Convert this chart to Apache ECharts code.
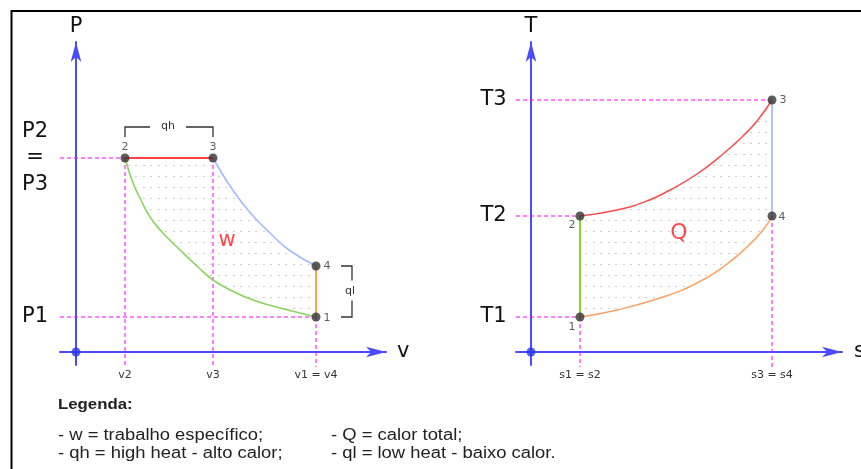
<!DOCTYPE html>
<html>
<head>
<meta charset="utf-8">
<script src="https://cdn.jsdelivr.net/npm/echarts@6/dist/echarts.min.js"></script>
<style>
  html, body { margin: 0; padding: 0; background: #fff; }
  #chart { width: 861px; height: 469px; }
</style>
</head>
<body>
<div id="chart"></div>
<script>
// State points 1..4 of the cycle
const stateNames = ['1', '2', '3', '4'];

// P-v diagram
const vState = [24.0, 4.9, 13.7, 24.0];
const pState = [3.5, 19.4, 19.4, 8.6];
const vTickValues = [4.9, 13.7, 24.0];
const vTickLabels = ['v2', 'v3', 'v1 = v4'];
const pTickValues = [3.5, 19.4];
const pTickLabels = ['P1', 'P2\n=\nP3'];
// compression 2 -> 1 and expansion 3 -> 4
const pvPath21 = [[4.9, 19.4], [5.7, 16.9], [6.5, 15.2], [7.4, 13.5], [8.7, 11.9], [10.4, 10.2],
                  [12.2, 8.5], [13.7, 7.2], [15.4, 6.2], [17.7, 5.2], [20.4, 4.4], [22.4, 3.9], [24.0, 3.5]];
const pvPath34 = [[13.7, 19.4], [14.4, 18.2], [15.2, 16.9], [16.4, 15.2], [17.8, 13.5], [19.4, 11.9],
                  [21.3, 10.2], [24.0, 8.6]];

// T-s diagram
const sState = [4.9, 4.9, 24.1, 24.1];
const tState = [3.5, 13.6, 25.2, 13.6];
const sTickValues = [4.9, 24.1];
const sTickLabels = ['s1 = s2', 's3 = s4'];
const tTickValues = [3.5, 13.6, 25.2];
const tTickLabels = ['T1', 'T2', 'T3'];
// heat addition 2 -> 3 and heat rejection 1 -> 4
const tsPath23 = [[4.9, 13.6], [8.6, 14.2], [11.6, 15.1], [13.9, 16.2], [16.6, 17.8], [19.2, 19.8],
                  [21.2, 21.6], [22.6, 23.1], [24.1, 25.2]];
const tsPath14 = [[4.9, 3.5], [8.6, 4.2], [13.2, 5.5], [16.6, 6.9], [19.2, 8.5], [21.6, 10.5],
                  [23.2, 12.2], [24.1, 13.6]];

// Area labels
const workLabel = { text: 'w', at: [15.1, 11.1] };
const heatLabel = { text: 'Q', at: [14.8, 11.9] };

// Axis ranges
const vRange = [-1.6, 31.0];
const pRange = [-1.3, 31.0];
const sRange = [-1.5, 31.1];
const tRange = [-1.3, 31.0];
const dropTo = -1.5; // where the vertical guides end below the abscissa

const FONT = '"DejaVu Sans", Verdana, sans-serif';
const AXIS_BLUE = '#4b4bff';
const MAGENTA = '#ff00ff';

// dotted hatch used to fill the cycle areas
const hatch = document.createElement('canvas');
hatch.width = 15; hatch.height = 11;
(function () {
  const c = hatch.getContext('2d');
  c.fillStyle = '#cfcfcf';
  c.fillRect(0, 0, 2, 1);
  c.fillRect(8, 0, 2, 1);
})();
const hatchFill = { type: 'pattern', image: hatch, repeat: 'repeat' };

function pick(values, labels, v) {
  let best = 0;
  values.forEach((x, i) => { if (Math.abs(x - v) < Math.abs(values[best] - v)) best = i; });
  return labels[best];
}

function xAxisDef(gridIndex, range, name, ticks, labels, gap) {
  return {
    type: 'value', gridIndex, min: range[0], max: range[1],
    name, nameLocation: 'end', nameGap: gap,
    nameTextStyle: { fontSize: 21, fontFamily: FONT, color: '#111', verticalAlign: 'middle' },
    axisLine: { onZero: true, symbol: ['none', 'arrow'], symbolSize: [8, 20],
                lineStyle: { color: AXIS_BLUE, width: 2 } },
    axisTick: { show: false }, splitLine: { show: false },
    axisLabel: { customValues: ticks, formatter: v => pick(ticks, labels, v),
                 margin: 5, fontSize: 11, fontFamily: FONT, color: '#333' }
  };
}

function yAxisDef(gridIndex, range, name, ticks, labels, margin) {
  return {
    type: 'value', gridIndex, min: range[0], max: range[1],
    name, nameLocation: 'end', nameGap: 5,
    nameTextStyle: { fontSize: 21, fontFamily: FONT, color: '#111' },
    axisLine: { onZero: true, symbol: ['none', 'arrow'], symbolSize: [8, 20],
                lineStyle: { color: AXIS_BLUE, width: 2 } },
    axisTick: { show: false }, splitLine: { show: false },
    axisLabel: { customValues: ticks, formatter: v => pick(ticks, labels, v),
                 margin, align: 'center', fontSize: 21, lineHeight: 26.5,
                 fontFamily: FONT, color: '#111' }
  };
}

function guide(ax, from, to) {
  return {
    type: 'line', xAxisIndex: ax, yAxisIndex: ax, data: [from, to],
    symbol: 'none', clip: false, silent: true, z: 2,
    lineStyle: { color: MAGENTA, width: 1, type: [4, 3] }
  };
}

function path(ax, data, color, width, smooth) {
  return {
    type: 'line', xAxisIndex: ax, yAxisIndex: ax, data, smooth: smooth,
    symbol: 'none', clip: false, silent: true, z: 3,
    lineStyle: { color, width }
  };
}

function region(ax, outline) {
  return {
    type: 'custom', xAxisIndex: ax, yAxisIndex: ax, data: [[0, 0]], silent: true, z: 1, clip: false,
    renderItem: (params, api) => ({
      type: 'polygon',
      shape: { points: outline.map(p => api.coord(p)) },
      style: { fill: hatchFill, stroke: null }
    })
  };
}

function states(ax, xs, ys, offsets) {
  return {
    type: 'scatter', xAxisIndex: ax, yAxisIndex: ax, z: 6, silent: true,
    symbolSize: 9, itemStyle: { color: '#333' },
    data: stateNames.map((n, i) => ({
      name: n, value: [xs[i], ys[i]],
      label: { show: true, position: 'inside', offset: offsets[n], formatter: '{b}',
               fontSize: 11, fontFamily: FONT, color: '#333' }
    }))
  };
}

function origin(ax) {
  return {
    type: 'scatter', xAxisIndex: ax, yAxisIndex: ax, z: 7, silent: true,
    symbolSize: 9, itemStyle: { color: '#2637f2' }, data: [[0, 0]]
  };
}

function areaText(ax, item, size) {
  return {
    type: 'scatter', xAxisIndex: ax, yAxisIndex: ax, z: 6, silent: true,
    symbolSize: 0, data: [{ value: item.at, name: item.text }],
    label: { show: true, position: 'inside', formatter: '{b}', fontSize: size,
             fontFamily: FONT, color: '#ff1a1a' }
  };
}

const bracketStyle = { stroke: '#333', lineWidth: 1.3, fill: null };
const smallText = (text, x, y) => ({
  type: 'text', x, y,
  style: { text, font: '11px ' + FONT, fill: '#333',
           align: 'center', verticalAlign: 'middle', textAlign: 'center', textVerticalAlign: 'middle' }
});

// bracket over the heat-addition isobar 2 -> 3
const qhBracket = {
  type: 'custom', xAxisIndex: 0, yAxisIndex: 0, data: [[0, 0]], silent: true, z: 5, clip: false,
  renderItem: (params, api) => {
    const a = api.coord([vState[1], pState[1]]);
    const b = api.coord([vState[2], pState[2]]);
    const y = a[1] - 31, mid = (a[0] + b[0]) / 2 + 2;
    return { type: 'group', children: [
      { type: 'polyline', shape: { points: [[a[0], y + 10], [a[0], y], [mid - 21, y]] }, style: bracketStyle },
      { type: 'polyline', shape: { points: [[mid + 15, y], [b[0], y], [b[0], y + 10]] }, style: bracketStyle },
      smallText('qh', mid - 3, y - 1)
    ] };
  }
};

// bracket beside the heat-rejection isochore 4 -> 1
const qlBracket = {
  type: 'custom', xAxisIndex: 0, yAxisIndex: 0, data: [[0, 0]], silent: true, z: 5, clip: false,
  renderItem: (params, api) => {
    const top = api.coord([vState[3], pState[3]]);
    const bot = api.coord([vState[0], pState[0]]);
    const x = top[0] + 36, mid = (top[1] + bot[1]) / 2;
    return { type: 'group', children: [
      { type: 'polyline', shape: { points: [[x - 11, top[1]], [x, top[1]], [x, mid - 11]] }, style: bracketStyle },
      { type: 'polyline', shape: { points: [[x, mid + 9], [x, bot[1]], [x - 11, bot[1]]] }, style: bracketStyle },
      smallText('ql', x - 2, mid)
    ] };
  }
};

const P = i => [vState[i], pState[i]];
const S = i => [sState[i], tState[i]];

const pvOutline = [P(1), P(2)].concat(pvPath34, [P(0)], pvPath21.slice().reverse());
const tsOutline = tsPath23.concat([S(3)], tsPath14.slice().reverse());

// legend block under the diagrams
const legendText = (text, x, y, bold) => ({
  type: 'text', x, y, silent: true, scaleX: bold ? 1.12 : 1.15,
  style: { text, fill: '#222',
           font: bold ? 'bold 15px "Liberation Sans", Arial, sans-serif'
                      : '16px "Liberation Sans", Arial, sans-serif',
           verticalAlign: 'middle', textVerticalAlign: 'middle' }
});

const option = {
  animation: false,
  backgroundColor: '#fff',
  grid: [
    { left: 60, top: 42, width: 326, height: 323, outerBoundsMode: 'none', containLabel: false },
    { left: 516, top: 42, width: 326, height: 323, outerBoundsMode: 'none', containLabel: false }
  ],
  xAxis: [
    xAxisDef(0, vRange, 'v', vTickValues, vTickLabels, 11),
    xAxisDef(1, sRange, 's', sTickValues, sTickLabels, 12)
  ],
  yAxis: [
    yAxisDef(0, pRange, 'P', pTickValues, pTickLabels, 25),
    yAxisDef(1, tRange, 'T', tTickValues, tTickLabels, 22.5)
  ],
  series: [
    region(0, pvOutline),
    region(1, tsOutline),

    // P-v guides
    guide(0, [vRange[0], pState[1]], P(1)),
    guide(0, [vRange[0], pState[0]], P(0)),
    guide(0, P(1), [vState[1], dropTo]),
    guide(0, P(2), [vState[2], dropTo]),
    guide(0, P(0), [vState[0], dropTo]),

    // T-s guides
    guide(1, [sRange[0], tState[2]], S(2)),
    guide(1, [sRange[0], tState[1]], S(1)),
    guide(1, [sRange[0], tState[0]], S(0)),
    guide(1, S(0), [sState[0], dropTo]),
    guide(1, S(3), [sState[3], dropTo]),

    // P-v processes
    path(0, [P(1), P(2)], '#ff0000', 1.5, false),
    path(0, pvPath34, '#a4bcff', 1.6, 0.5),
    path(0, [P(3), P(0)], '#ffa347', 2, false),
    path(0, pvPath21, '#8cd45c', 1.6, 0.5),

    // T-s processes
    path(1, tsPath23, '#ff4a4a', 1.5, 0.5),
    path(1, [S(2), S(3)], '#aec2ff', 2, false),
    path(1, tsPath14, '#ffa060', 1.5, 0.5),
    path(1, [S(0), S(1)], '#66cc00', 1.6, false),

    qhBracket,
    qlBracket,
    areaText(0, workLabel, 21),
    areaText(1, heatLabel, 22),

    states(0, vState, pState, { '1': [11, 1], '2': [0, -11], '3': [0, -11], '4': [11, 0] }),
    states(1, sState, tState, { '1': [-8, 10], '2': [-8, 9], '3': [11, 0], '4': [10, 1] }),
    origin(0),
    origin(1)
  ],
  graphic: [
    { type: 'rect', silent: true, shape: { x: 11.5, y: 11, width: 900, height: 500 },
      style: { fill: 'none', stroke: '#000', lineWidth: 2 } },
    legendText('Legenda:', 58, 405, true),
    legendText('- w = trabalho específico;', 58, 436),
    legendText('- qh = high heat - alto calor;', 58, 454),
    legendText('- Q = calor total;', 331, 436),
    legendText('- ql = low heat - baixo calor.', 331, 454)
  ]
};

const chart = echarts.init(document.getElementById('chart'), null, { renderer: 'canvas' });
chart.setOption(option);
</script>
</body>
</html>
